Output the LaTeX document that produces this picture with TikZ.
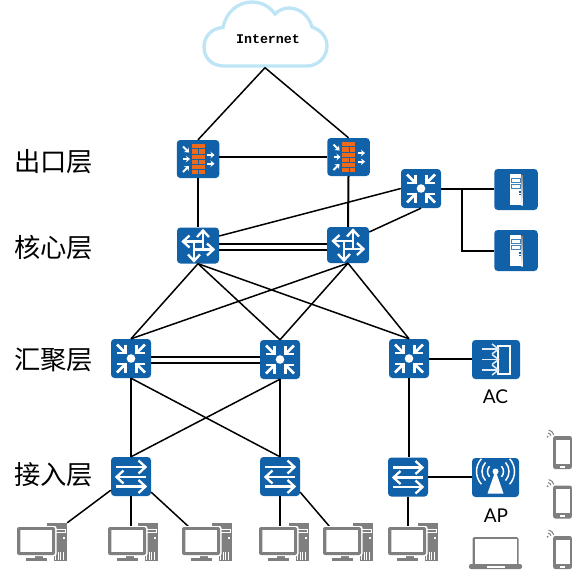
\documentclass[tikz,border=0pt]{standalone}
\usepackage{fontspec}
\newfontfamily\cjkfont{Noto Sans CJK SC}
\newfontfamily\netfont{Liberation Mono}
\newfontfamily\tagfont{Lato}
\usetikzlibrary{arrows.meta}
\definecolor{devblue}{HTML}{1161A9}
\definecolor{brick}{HTML}{EE6A1B}
\definecolor{pcgray}{HTML}{7F7F7F}
\definecolor{cloudblue}{HTML}{BDE5F6}
\definecolor{shade}{HTML}{B9C4E4}
\tikzset{
  devbox/.style={fill=devblue,rounded corners=3.5pt,inner sep=0pt,minimum width=40pt,minimum height=39pt},
  hollow/.style={inner sep=0pt,minimum width=#1,minimum height=34pt},
  link/.style={draw=black,line width=2pt},
  thinlink/.style={draw=black,line width=1.5pt},
  layer/.style={font=\cjkfont\fontsize{26.3}{27}\selectfont,inner sep=0pt},
  tag/.style={font=\tagfont\fontsize{19}{20}\selectfont,inner sep=0pt},
  wh/.style={draw=white,line width=2.3pt,miter limit=10},
  l3ic/.pic={
    \fill[white] (0,0) circle (4.3pt);
    \foreach \sx/\sy in {1/1,1/-1,-1/1,-1/-1}{
      \draw[wh,line width=2.4pt] (\sx*14,\sy*5.5)--(\sx*5.5,\sy*5.5)--(\sx*5.5,\sy*14);
      \draw[wh,line width=2.8pt] (\sx*14,\sy*14)--(\sx*6.5,\sy*6.5);
    }
  },
  swic/.pic={
    \draw[wh] (-15,-9.5)--(14,-9.5);
    \draw[wh] (7.5,-16)--(14.5,-9.5)--(7.5,-3);
    \draw[wh] (15,0.5)--(-14,0.5);
    \draw[wh] (-7.5,-6)--(-14.5,0.5)--(-7.5,7);
    \draw[wh] (-15,10)--(14,10);
    \draw[wh] (7.5,3.5)--(14.5,10)--(7.5,16.5);
  },
  coreic/.pic={
    \draw[wh] (5,4)--(5,-14);
    \draw[wh] (-1,-8.5)--(5,-15)--(11,-8.5);
    \draw[wh] (-4,4)--(15,4);
    \draw[wh] (9,-2)--(15.5,4)--(9,10);
    \draw[wh] (5,-4)--(-14,-4);
    \draw[wh] (-8.5,-10)--(-15,-4)--(-8.5,2);
    \draw[wh] (-4,-4)--(-4,15);
    \draw[wh] (-10,9)--(-4,15.5)--(2,9);
    \fill[devblue] (0,0) circle (2.8pt);
  },
  fwic/.pic={
    \fill[brick] (-6.5,-15) rectangle (6.5,15);
    \foreach \yy in {-10.3,-5.2,-0.2,4.8,9.9}{\draw[devblue,line width=0.55pt] (-6.5,\yy)--(6.5,\yy);}
    \foreach \yy in {-10.3,-0.2,9.9}{\draw[devblue,line width=0.55pt] (0.5,\yy)--(0.5,\yy+5);}
    \begin{scope}[white,line width=1.9pt,-{Stealth[length=4pt,width=6.5pt]}]
      \draw (-15,-12.5)--(-9,-6.5);
      \draw (-15,0)--(-8,0);
      \draw (-15,13)--(-9,7);
      \draw (9,-4)--(16.5,-4);
      \draw (9,4.7)--(16.5,4.7);
    \end{scope}
  },
  srvic/.pic={
    \fill[white] (-6.5,-15.5) rectangle (6.5,15.5);
    \fill[shade] (5.4,-15.5) rectangle (6.5,15.5);
    \draw[devblue!80!white,line width=0.9pt] (-4.3,-11) rectangle (4.3,-7.2);
    \draw[devblue!80!white,line width=0.9pt] (-4.3,-4.8) rectangle (4.3,-0.8);
    \fill[devblue] (3.2,1.5) rectangle (5,3);
    \fill[devblue] (3.2,4.2) rectangle (5,5.7);
  },
  acic/.pic={
    \fill[white] (1,-15) rectangle (15,15);
    \fill[devblue] (3,-13) rectangle (13,13);
    \foreach \yy in {-10.5,0,10.5}{
      \draw[white!88!devblue,line width=1.5pt] (-14.5,\yy)--(2.5,\yy);
      \draw[white!88!devblue,line width=1.5pt] (-4,\yy-5)--(2.5,\yy)--(-4,\yy+5);
    }
  },
  apic/.pic={
    \fill[white] (0,-7)--(8,16)--(-8,16)--cycle;
    \fill[white] (0,-6) circle (3pt);
    \foreach \rr in {8,13.5,19}{
      \draw[white,line width=1.5pt] ([shift={(0,-6)}]-42:\rr pt) arc[start angle=-42,end angle=42,radius=\rr pt];
      \draw[white,line width=1.5pt] ([shift={(0,-6)}]138:\rr pt) arc[start angle=138,end angle=222,radius=\rr pt];
    }
  },
  pcic/.pic={
    \begin{scope}[shift={(-25,-21)}]
      \fill[pcgray] (30,0) rectangle (50,38);
      \fill[white] (38,5.5) rectangle (49,10);
      \fill[pcgray] (39,6.7) rectangle (48,8.8);
      \fill[white] (45.5,14) rectangle (47.5,16);
      \foreach \xx in {38,40.5,43,45.5}{\fill[white] (\xx,29) rectangle (\xx+1,37);}
      \fill[white] (22,32) rectangle (37,38);
      \fill[pcgray] (9,35) rectangle (30,38);
      \fill[pcgray] (18,31) rectangle (26,35);
      \fill[white,rounded corners=2pt] (-1,3) rectangle (39.5,33);
      \fill[pcgray,rounded corners=2pt] (0,4) rectangle (38,32);
      \fill[white] (3,7) rectangle (35,29);
      \fill[pcgray!35] (3,7) rectangle (4.2,29);
    \end{scope}
  },
  lapic/.pic={
    \fill[pcgray,rounded corners=1.5pt] (-23,-16) rectangle (23,12);
    \fill[white] (-21,-14) rectangle (21,11);
    \fill[pcgray,rounded corners=2pt] (-26.5,11) rectangle (26.5,16);
    \fill[white] (-9,12.5) rectangle (9,14.5);
  },
  phic/.pic={
    \fill[pcgray,rounded corners=2pt] (-9.3,-16.5) rectangle (9.3,16.5);
    \fill[white] (-7,-13) rectangle (7,11);
    \fill[white] (-2.5,13) rectangle (2.5,15);
    \draw[pcgray,line width=1pt] ([shift={(-15,-16)}]15:3.5pt) arc[start angle=15,end angle=80,radius=3.5pt];
    \draw[pcgray,line width=1pt] ([shift={(-15,-16)}]15:6.5pt) arc[start angle=15,end angle=80,radius=6.5pt];
    \fill[pcgray] (-14.8,-15.8) circle (1pt);
  }
}
\begin{document}
\begin{tikzpicture}[x=1pt,y=-1pt]
\useasboundingbox (0,0) rectangle (572,571);
% cloud
\draw[cloudblue,line width=3.3pt,fill=white] (224,66) .. controls (211,66) and (204,57) .. (204,47) .. controls (204,36) and (212,28) .. (223,27.5) .. controls (226,12) and (238,2) .. (252,2) .. controls (262,2) and (270,7) .. (275,14) .. controls (279,10) and (284,8) .. (289,8) .. controls (300,8) and (309,16) .. (312,27) .. controls (321,30) and (327,37) .. (327,46) .. controls (327,57) and (318,66) .. (307,66) -- cycle;
\node[inner sep=0pt,minimum width=124pt,minimum height=67pt] (cloud) at (265,34) {};
\node[inner sep=0pt,font=\netfont\bfseries\fontsize{13.3}{14}\selectfont] (nettext) at (268,39.5) {Internet};
% layer labels
\node[layer] (l1) at (53.5,162) {出口层};
\node[layer] (l2) at (53.5,248) {核心层};
\node[layer] (l3) at (53.5,360) {汇聚层};
\node[layer] (l4) at (53.5,475) {接入层};
% devices
\node[devbox,minimum width=42.5pt,minimum height=38pt] (fwa) at (198,159) {};
\node[devbox,minimum width=42.5pt,minimum height=38pt] (fwb) at (348.5,157) {};
\node[devbox,minimum width=42pt,minimum height=36pt] (corea) at (198,245.5) {};
\node[devbox,minimum width=42pt,minimum height=36pt] (coreb) at (348,245) {};
\node[devbox] (top) at (421,188.5) {};
\node[devbox,minimum width=43.5pt,minimum height=41pt] (srva) at (516,189.5) {};
\node[devbox,minimum width=43.5pt,minimum height=41pt] (srvb) at (516,250.5) {};
\node[devbox] (agga) at (131,358.5) {};
\node[devbox] (aggb) at (280,359.5) {};
\node[devbox] (aggc) at (409,358.5) {};
\node[devbox,minimum width=48pt] (ac) at (496,359.5) {};
\node[devbox] (acca) at (131,476.5) {};
\node[devbox] (accb) at (280,476.5) {};
\node[devbox] (accc) at (408,477) {};
\node[devbox,minimum width=47pt] (ap) at (495.5,477.5) {};
\node[tag] (actag) at (495.5,396.5) {AC};
\node[tag] (aptag) at (496,516) {AP};
\node[hollow=50pt] (pca) at (42,544) {};
\node[hollow=50pt] (pcb) at (133,544) {};
\node[hollow=50pt] (pcc) at (207,544) {};
\node[hollow=50pt] (pcd) at (284,544) {};
\node[hollow=50pt] (pce) at (348,544) {};
\node[hollow=50pt] (pcf) at (413,544) {};
\node[hollow=53pt] (lap) at (495.5,553) {};
\node[hollow=19pt] (pha) at (562.5,452.5) {};
\node[hollow=19pt] (phb) at (562.5,502) {};
\node[hollow=19pt] (phc) at (562.5,552.5) {};
\coordinate (branch) at (462,188.5);
% connectors
\draw[thinlink] (cloud.south) -- (fwa.north);
\draw[thinlink] (cloud.south) -- (fwb.north);
\draw[link] (fwa.east |- fwb.west) -- (fwb.west);
\draw[link] (fwa.south) -- (corea.north);
\draw[link] (fwb.south) -- (coreb.north);
\draw[link] ([yshift=1.2pt]corea.east) -- ([yshift=0.7pt]coreb.west);
\draw[link] ([yshift=-4.5pt]corea.east) -- ([yshift=-5pt]coreb.west);
\draw[thinlink] ([yshift=9.5pt]corea.east) -- (top.west);
\draw[thinlink] ([yshift=13pt]coreb.east) -- (top.south);
\draw[link] (top.east) -- (srva.west |- top.east);
\draw[link] (branch) |- (srvb.west);
\foreach \c in {corea,coreb}\foreach \a in {agga,aggb,aggc}{\draw[thinlink] (\c.south) -- (\a.north);}
\draw[link] ([yshift=1.2pt]agga.east) -- ([yshift=2.2pt]aggb.west);
\draw[link] ([yshift=-4.5pt]agga.east) -- ([yshift=-3.5pt]aggb.west);
\draw[link] (aggc.east) -- (aggc.east -| ac.west);
\draw[link] (aggc.south) -- (aggc.south |- accc.north);
\draw[link] (agga.south) -- (acca.north);
\draw[link] (aggb.south) -- (accb.north);
\draw[thinlink] (agga.south) -- (accb.north);
\draw[thinlink] (aggb.south) -- (acca.north);
\draw[link] (accc.east) -- (accc.east -| ap.west);
\draw[link] (accc.south) -- (accc.south |- pcf.north);
\draw[thinlink] ([yshift=6pt]acca.south west) -- ([yshift=4pt]pca.north east);
\draw[link] (acca.south) -- (acca.south |- pcb.north);
\draw[thinlink] ([yshift=4pt]acca.south east) -- ([xshift=7pt]pcc.north west);
\draw[link] (accb.south) -- (accb.south |- pcd.north);
\draw[thinlink] ([yshift=4pt]accb.south east) -- ([xshift=7pt]pce.north west);
% icons
\pic at (fwa) {fwic};
\pic at (fwb) {fwic};
\pic at (corea) {coreic};
\pic at (coreb) {coreic};
\pic at (top) {l3ic};
\pic at (agga) {l3ic};
\pic at (aggb) {l3ic};
\pic at (aggc) {l3ic};
\pic at (srva) {srvic};
\pic at (srvb) {srvic};
\pic at (acca) {swic};
\pic at (accb) {swic};
\pic at (accc) {swic};
\pic at (ac) {acic};
\pic at (ap) {apic};
\foreach \p in {pca,pcb,pcc,pcd,pce,pcf}{\pic at (\p) {pcic};}
\pic at (lap) {lapic};
\pic at (pha) {phic};
\pic at (phb) {phic};
\pic at (phc) {phic};
\end{tikzpicture}
\end{document}
